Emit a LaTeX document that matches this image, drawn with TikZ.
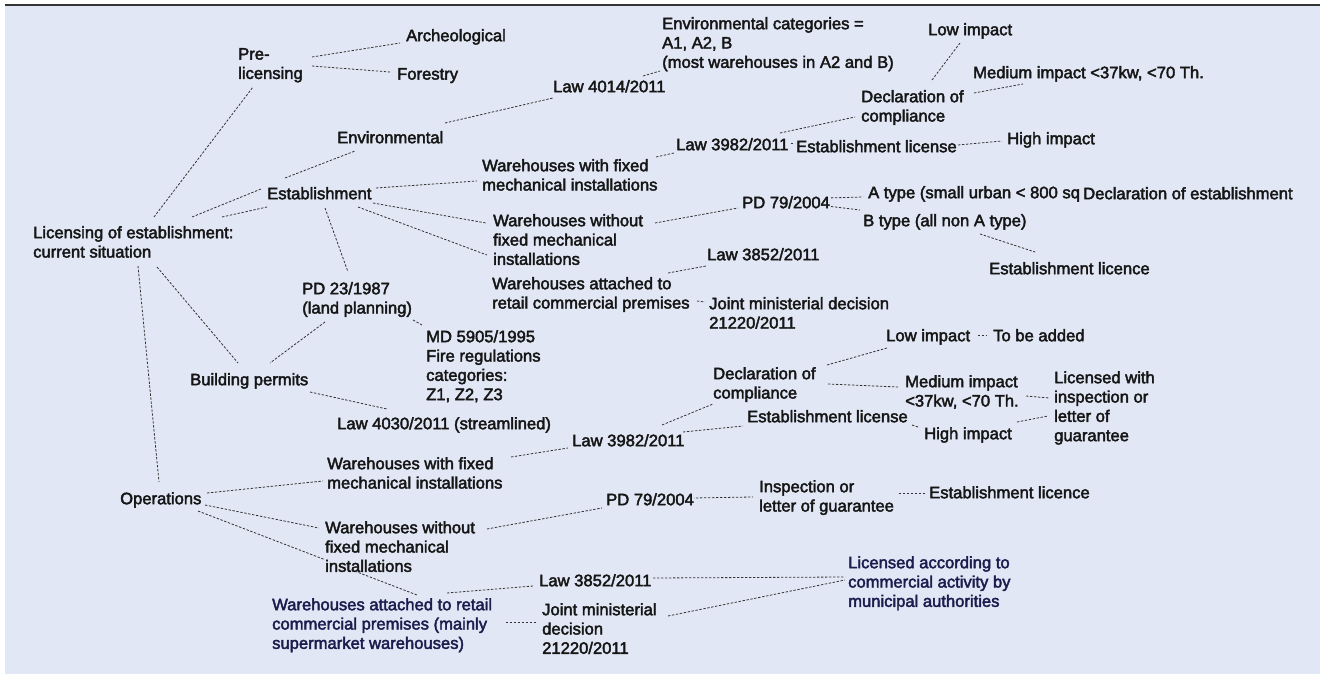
\documentclass[tikz,border=0pt]{standalone}
\usepackage{fontspec}
\setmainfont{Liberation Sans}
\newfontfamily\diagfont[FakeBold=2.5]{Liberation Sans}
\usetikzlibrary{calc}
\definecolor{paper}{HTML}{E1E7F4}
\definecolor{ink}{HTML}{161616}
\definecolor{navy}{HTML}{1C1C4E}
\definecolor{rule}{HTML}{333333}
\pgfdeclarelayer{paperlayer}
\pgfdeclarelayer{linklayer}
\pgfsetlayers{paperlayer,linklayer,main}
\tikzset{
    item/.style = {
        anchor = north west,
        inner sep = 0pt,
        align = left,
        fill = paper,
        text = ink,
        font = \diagfont\fontsize{16.6}{19.3}\selectfont,
        },
    navy item/.style = {
        item,
        text = navy,
        },
    link/.style = {
        draw = rule,
        line width = 0.8pt,
        dash pattern = on 2.4pt off 1.6pt,
        },
}

\begin{document}
\begin{tikzpicture}[x=1pt, y=-1pt]
    \useasboundingbox (0,0) rectangle (1320,674);
    \begin{pgfonlayer}{paperlayer}
        \fill[paper] (5,5) rectangle (1320,674);
        \draw[line width=2pt, draw=rule] (5,5) -- (1320,5);
    \end{pgfonlayer}

    % root and first level
    \node[item] (lic) at (33,226) {Licensing of establishment:\\current situation};
    \node[item] (pre) at (238,48) {Pre-\\licensing};
    \node[item] (arch) at (406,29) {Archeological};
    \node[item] (forest) at (397,68) {Forestry};
    \node[item] (env) at (337,131) {Environmental};
    \node[item] (est) at (267,187) {Establishment};
    \node[item] (pd23) at (302,282) {PD 23/1987\\(land planning)};
    \node[item] (md) at (426,330) {MD 5905/1995\\Fire regulations\\categories:\\Z1, Z2, Z3};
    \node[item] (build) at (190,373) {Building permits};
    \node[item] (law4030) at (337,417) {Law 4030/2011 (streamlined)};
    \node[item] (ops) at (120,492) {Operations};

    % establishment branch
    \node[item] (law4014) at (553,80) {Law 4014/2011};
    \node[item] (envcat) at (662,17) {Environmental categories =\\A1, A2, B\\(most warehouses in A2 and B)};
    \node[item] (ewith) at (482,159) {Warehouses with fixed\\mechanical installations};
    \node[item] (ewithout) at (493,214) {Warehouses without\\fixed mechanical\\installations};
    \node[item] (eattach) at (492,277) {Warehouses attached to\\retail commercial premises};
    \node[item] (elaw3982) at (676,138) {Law 3982/2011};
    \node[item] (edecl) at (861,90) {Declaration of\\compliance};
    \node[item] (elicense) at (796,140) {Establishment license};
    \node[item] (elow) at (928,23) {Low impact};
    \node[item] (emed) at (973,66) {Medium impact <37kw, <70 Th.};
    \node[item] (ehigh) at (1007,132) {High impact};
    \node[item] (epd79) at (742,196) {PD 79/2004};
    \node[item] (atype) at (868,186) {A type (small urban < 800 sq};
    \node[item] (decest) at (1083,187) {Declaration of establishment};
    \node[item] (btype) at (863,214) {B type (all non A type)};
    \node[item] (elicence) at (989,262) {Establishment licence};
    \node[item] (elaw3852) at (707,248) {Law 3852/2011};
    \node[item] (ejoint) at (709,297) {Joint ministerial decision\\21220/2011};

    % operations branch
    \node[item] (owith) at (327,457) {Warehouses with fixed\\mechanical installations};
    \node[item] (owithout) at (325,521) {Warehouses without\\fixed mechanical\\installations};
    \node[navy item] (oattach) at (272,598) {Warehouses attached to retail\\commercial premises (mainly\\supermarket warehouses)};
    \node[item] (olaw3982) at (572,434) {Law 3982/2011};
    \node[item] (odecl) at (713,367) {Declaration of\\compliance};
    \node[item] (olicense) at (747,410) {Establishment license};
    \node[item] (olow) at (886,329) {Low impact};
    \node[item] (added) at (993,329) {To be added};
    \node[item] (omed) at (905,375) {Medium impact\\<37kw, <70 Th.};
    \node[item] (ohigh) at (924,427) {High impact};
    \node[item] (lwith) at (1054,371) {Licensed with\\inspection or\\letter of\\guarantee};
    \node[item] (opd79) at (606,493) {PD 79/2004};
    \node[item] (insp) at (759,480) {Inspection or\\letter of guarantee};
    \node[item] (olicence) at (929,486) {Establishment licence};
    \node[item] (olaw3852) at (539,574) {Law 3852/2011};
    \node[item] (ojoint) at (542,603) {Joint ministerial\\decision\\21220/2011};
    \node[navy item] (lacc) at (848,556) {Licensed according to\\commercial activity by\\municipal authorities};

    \begin{pgfonlayer}{linklayer}
        % root links
        \draw[link] ($(lic.north west)+(121,-9)$) -- ($(pre.north west)+(15,39)$);
        \draw[link] ($(pre.north west)+(74,9)$) -- ($(arch.north west)+(-6,14)$);
        \draw[link] ($(pre.north west)+(74,18)$) -- ($(forest.north west)+(-7,4)$);
        \draw[link] ($(lic.north west)+(159,-9)$) -- ($(est.north west)+(-6,2)$);
        \draw[link] ($(lic.north west)+(189,-9)$) -- ($(est.north west)+(0,20)$);
        \draw[link] ($(est.north west)+(18,-9)$) -- ($(env.north west)+(18,20)$);
        \draw[link] ($(est.north west)+(58,21)$) -- ($(pd23.north west)+(46,-10)$);
        \draw[link] ($(lic.north west)+(124,41)$) -- ($(build.north west)+(48,-10)$);
        \draw[link] ($(lic.north west)+(105,40)$) -- ($(ops.north west)+(39,-10)$);
        \draw[link] ($(pd23.north west)+(23,40)$) -- ($(build.north west)+(80,-10)$);
        \draw[link] ($(pd23.north west)+(111,38)$) -- ($(md.north west)+(-4,-5)$);
        \draw[link] ($(build.north west)+(120,19)$) -- ($(law4030.north west)+(50,-8)$);

        % establishment links
        \draw[link] ($(env.north west)+(108,-8)$) -- ($(law4014.north west)+(0,18)$);
        \draw[link] ($(law4014.north west)+(90,-4)$) -- ($(envcat.north west)+(-2,54)$);
        \draw[link] ($(est.north west)+(109,1)$) -- ($(ewith.north west)+(-5,22)$);
        \draw[link] ($(est.north west)+(106,16)$) -- ($(ewithout.north west)+(-7,9)$);
        \draw[link] ($(est.north west)+(91,20)$) -- ($(ewithout.north west)+(-6,41)$);
        \draw[link] ($(ewith.north west)+(174,-2)$) -- ($(elaw3982.north west)+(-2,15)$);
        \draw[link] ($(elaw3982.north west)+(104,-5)$) -- ($(edecl.north west)+(-6,27)$);
        \draw[link] ($(elaw3982.north west)+(107,5)$) -- ($(elicense.north west)+(-1,3)$);
        \draw[link] ($(edecl.north west)+(71,-10)$) -- ($(elow.north west)+(32,20)$);
        \draw[link] ($(edecl.north west)+(113,3)$) -- ($(emed.north west)+(50,18)$);
        \draw[link] ($(elicense.north west)+(162,5)$) -- ($(ehigh.north west)+(-5,9)$);
        \draw[link] ($(ewithout.north west)+(162,9)$) -- ($(epd79.north west)+(-4,12)$);
        \draw[link] ($(epd79.north west)+(85,2)$) -- ($(atype.north west)+(-5,11)$);
        \draw[link] ($(epd79.north west)+(85,10)$) -- ($(btype.north west)+(-3,-4)$);
        \draw[link] ($(btype.north west)+(117,20)$) -- ($(elicence.north west)+(46,-10)$);
        \draw[link] ($(eattach.north west)+(176,-4)$) -- ($(elaw3852.north west)+(-1,18)$);
        \draw[link] ($(eattach.north west)+(205,24)$) -- ($(ejoint.north west)+(-4,5)$);

        % operations links
        \draw[link] ($(ops.north west)+(87,1)$) -- ($(owith.north west)+(-4,24)$);
        \draw[link] ($(ops.north west)+(85,13)$) -- ($(owithout.north west)+(-6,7)$);
        \draw[link] ($(ops.north west)+(78,19)$) -- ($(oattach.north west)+(145,-3)$);
        \draw[link] ($(oattach.north west)+(175,-5)$) -- ($(olaw3852.north west)+(-6,12)$);
        \draw[link] ($(oattach.north west)+(234,24)$) -- ($(ojoint.north west)+(-6,19)$);
        \draw[link] ($(owith.north west)+(184,0)$) -- ($(olaw3982.north west)+(-4,14)$);
        \draw[link] ($(olaw3982.north west)+(90,-9)$) -- ($(odecl.north west)+(0,37)$);
        \draw[link] ($(olaw3982.north west)+(111,-2)$) -- ($(olicense.north west)+(-4,16)$);
        \draw[link] ($(odecl.north west)+(114,-2)$) -- ($(olow.north west)+(1,19)$);
        \draw[link] ($(odecl.north west)+(115,17)$) -- ($(omed.north west)+(-7,12)$);
        \draw[link] ($(olow.north west)+(92,6)$) -- ($(added.north west)+(-6,6)$);
        \draw[link] ($(olicense.north west)+(165,15)$) -- ($(ohigh.north west)+(-6,0)$);
        \draw[link] ($(omed.north west)+(121,21)$) -- ($(lwith.north west)+(-5,27)$);
        \draw[link] ($(ohigh.north west)+(93,-5)$) -- ($(lwith.north west)+(-6,45)$);
        \draw[link] ($(owithout.north west)+(162,8)$) -- ($(opd79.north west)+(-4,15)$);
        \draw[link] ($(opd79.north west)+(86,5)$) -- ($(insp.north west)+(-6,17)$);
        \draw[link] ($(insp.north west)+(140,13)$) -- ($(olicence.north west)+(-4,7)$);
        \draw[link] ($(olaw3852.north west)+(114,4)$) -- ($(lacc.north west)+(-3,21)$);
        \draw[link] ($(ojoint.north west)+(126,13)$) -- ($(lacc.north west)+(-3,24)$);
    \end{pgfonlayer}
\end{tikzpicture}
\end{document}
